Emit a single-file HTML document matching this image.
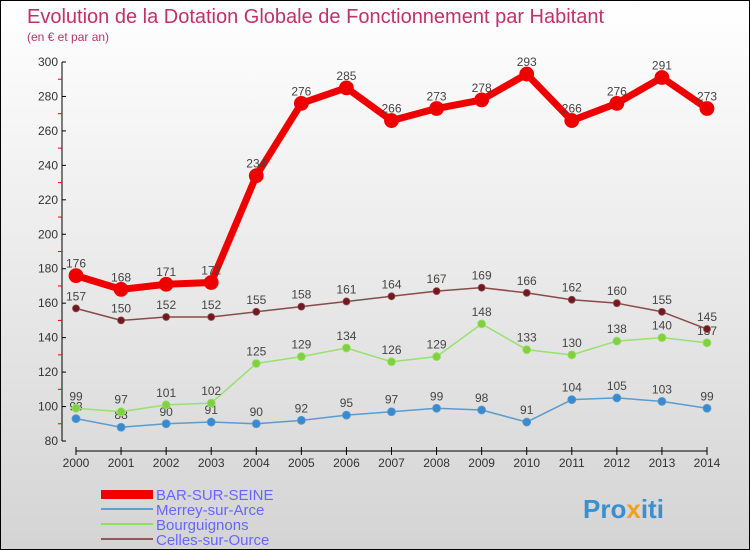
<!DOCTYPE html>
<html><head><meta charset="utf-8"><style>
body{margin:0}
#c{width:750px;height:550px;position:relative;overflow:hidden;box-sizing:border-box;border:1px solid #000;background:linear-gradient(#ffffff,#d4d4d4);font-family:"Liberation Sans",sans-serif}
text{font-family:"Liberation Sans",sans-serif}
</style></head><body>
<div id="c">
<svg id="s" width="750" height="550">
<text x="26" y="22" font-size="20" fill="#c0306a">Evolution de la Dotation Globale de Fonctionnement par Habitant</text>
<text x="26" y="40" font-size="12" fill="#c0306a">(en € et par an)</text>
<g id="axes"></g><g id="series"></g>
<g>
<rect x="100" y="489" width="52" height="9" fill="#ee0000"/>
<text x="155" y="499" font-size="15" fill="#6666ff">BAR-SUR-SEINE</text>
<rect x="100" y="507" width="52" height="2" fill="#5aa0d0"/>
<text x="155" y="514" font-size="15" fill="#6666ff">Merrey-sur-Arce</text>
<rect x="100" y="522" width="52" height="2" fill="#90e060"/>
<text x="155" y="529" font-size="15" fill="#6666ff">Bourguignons</text>
<rect x="100" y="537" width="52" height="2" fill="#905858"/>
<text x="155" y="544" font-size="15" fill="#6666ff">Celles-sur-Ource</text>
</g>
<text x="582" y="517" font-size="26" font-weight="bold" fill="#3a8fd0">Pro<tspan fill="#f0a020">x</tspan>iti</text>
</svg>
</div>
<script>
const years=["2000","2001","2002","2003","2004","2005","2006","2007","2008","2009","2010","2011","2012","2013","2014"];
const yTicks=[80,100,120,140,160,180,200,220,240,260,280,300];
const barSurSeine=[176,168,171,172,234,276,285,266,273,278,293,266,276,291,273];
const merrey=[93,88,90,91,90,92,95,97,99,98,91,104,105,103,99];
const bourguignons=[99,97,101,102,125,129,134,126,129,148,133,130,138,140,137];
const celles=[157,150,152,152,155,158,161,164,167,169,166,162,160,155,145];
const NS="http://www.w3.org/2000/svg";
const X=i=>75+i*(706-75)/(years.length-1);
const Y=v=>440-(v-80)*(440-61)/220;
function mk(tag,attrs,parent,txt){const e=document.createElementNS(NS,tag);for(const k in attrs)e.setAttribute(k,attrs[k]);if(txt!==undefined)e.textContent=txt;parent.appendChild(e);return e;}
const ax=document.getElementById('axes');
let e=mk('line',{x1:61,y1:61,x2:61,y2:440,stroke:'#000'},ax);


yTicks.forEach((t,i)=>{
 mk('line',{x1:61,y1:Y(t),x2:65,y2:Y(t),stroke:'#000'},ax);
 if(i<yTicks.length-1)mk('line',{x1:57,y1:Y(t+10),x2:61,y2:Y(t+10),stroke:'#e00'},ax);
 const l=mk('text',{x:57,y:Y(t)+4,'font-size':12,'text-anchor':'end',fill:'#333'},ax,t);
 
 
});
e=mk('line',{x1:75,y1:450,x2:706,y2:450,stroke:'#000'},ax);


years.forEach((y,i)=>{
 mk('line',{x1:X(i),y1:446,x2:X(i),y2:454,stroke:'#000'},ax);
 const l=mk('text',{x:X(i),y:466,'font-size':12,'text-anchor':'middle',fill:'#333'},ax,y);
 
 
});
const sg=document.getElementById('series');
function draw(vals,name,color,dot,w,r,labelBelow){
 const g=mk('g',{},sg);
 
 
 const p=mk('polyline',{points:vals.map((v,i)=>X(i)+','+Y(v)).join(' '),fill:'none',stroke:color,'stroke-width':w,'stroke-linejoin':'round'},g);
 
 
 vals.forEach((v,i)=>{
  const c=mk('circle',{cx:X(i),cy:Y(v),r:r,fill:dot,stroke:color,'stroke-width':0.8},g);
  
  
  const t=mk('text',{x:X(i),y:Y(v)-8,'font-size':12,'text-anchor':'middle',fill:'#444'},g,v);
  
  
 });
}
draw(merrey,'merrey','#5a9ccc','#3a8ad0',1.5,4);
draw(bourguignons,'bourguignons','#98e070','#80d040',1.5,4);
draw(celles,'celles','#8a4a4a','#701a20',1.5,3.5);
draw(barSurSeine,'bar-sur-seine','#ee0000','#ee0000',7,7);
</script>
</body></html>
